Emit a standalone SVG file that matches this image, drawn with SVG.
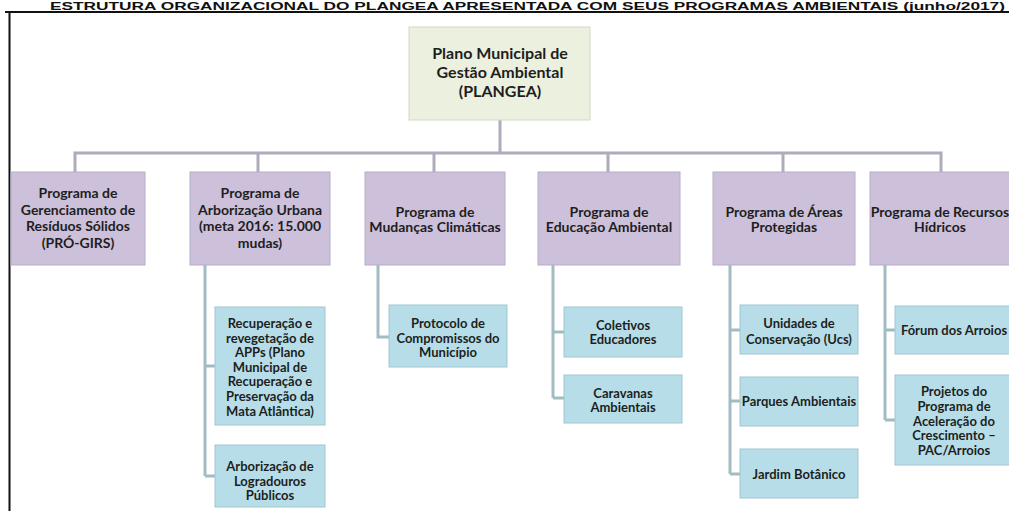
<svg xmlns="http://www.w3.org/2000/svg" width="1009" height="511" viewBox="0 0 1009 511">
<style>
text{font-family:Lato,"Liberation Sans",sans-serif;font-weight:bold;fill:#1e1e1e;text-anchor:middle}
.t0{font-size:16px}
.t1{font-size:14px}
.t2{font-size:13px}
.root{fill:#ebf1de;stroke:#d2d8c4;stroke-width:1}
.l1{fill:#ccc0da;stroke:#b8adc8;stroke-width:1}
.l2{fill:#b7dee8;stroke:#a0c6d1;stroke-width:1}
.c0{fill:none;stroke:#acacbc;stroke-width:3}
.c1{fill:none;stroke:#a2bcc4;stroke-width:3}
.title{font-family:"Liberation Sans",Arial,sans-serif;font-size:10px;font-weight:bold;fill:#111;text-anchor:start}
</style>
<rect width="1009" height="511" fill="#ffffff"/>
<text class="title" x="50" y="9.5" textLength="955" lengthAdjust="spacingAndGlyphs">ESTRUTURA ORGANIZACIONAL DO PLANGEA APRESENTADA COM SEUS PROGRAMAS AMBIENTAIS (junho/2017)</text>
<path d="M5 12H1009M9.5 12V511" fill="none" stroke="#111" stroke-width="2"/>
<g id="connectors">
<path class="c0" d="M500 120V153M75 172V153H941V172M258 153V172M434 153V172M608 153V172M783 153V172"/>
<path class="c1" d="M205 265V476M205 366H215M205 476H215"/>
<path class="c1" d="M378 265V337H389"/>
<path class="c1" d="M553 265V398M553 332H564M553 398H564"/>
<path class="c1" d="M730 265V474M730 330H740M730 401H740M730 474H740"/>
<path class="c1" d="M885 265V420M885 330H895M885 420H895"/>
</g>
<g id="root"><rect class="root" x="409" y="27" width="181" height="93"/>
<text class="t0" x="500" y="58.5">Plano Municipal de</text><text class="t0" x="500" y="78">Gestão Ambiental</text><text class="t0" x="500" y="96.5">(PLANGEA)</text></g>
<g id="p1"><rect class="l1" x="11" y="172" width="134" height="93"/>
<text class="t1" x="78" y="198">Programa de</text><text class="t1" x="78" y="214.5">Gerenciamento de</text><text class="t1" x="78" y="231">Resíduos Sólidos</text><text class="t1" x="78" y="247.5">(PRÓ-GIRS)</text></g>
<g id="p2"><rect class="l1" x="190" y="172" width="140" height="93"/>
<text class="t1" x="260" y="198">Programa de</text><text class="t1" x="260" y="214.5">Arborização Urbana</text><text class="t1" x="260" y="231">(meta 2016: 15.000</text><text class="t1" x="260" y="247.5">mudas)</text></g>
<g id="p3"><rect class="l1" x="365" y="172" width="140" height="93"/>
<text class="t1" x="435" y="216.5">Programa de</text><text class="t1" x="435" y="231.5">Mudanças Climáticas</text></g>
<g id="p4"><rect class="l1" x="538" y="172" width="142" height="93"/>
<text class="t1" x="609" y="216.5">Programa de</text><text class="t1" x="609" y="231.5">Educação Ambiental</text></g>
<g id="p5"><rect class="l1" x="713" y="172" width="142" height="93"/>
<text class="t1" x="784" y="216.5">Programa de Áreas</text><text class="t1" x="784" y="231.5">Protegidas</text></g>
<g id="p6"><rect class="l1" x="870" y="172" width="142" height="93"/>
<text class="t1" x="940" y="216.5">Programa de Recursos</text><text class="t1" x="940" y="231.5">Hídricos</text></g>
<g id="s21"><rect class="l2" x="215" y="307" width="110" height="118"/>
<text class="t2" x="270" y="328">Recuperação e</text><text class="t2" x="270" y="342.6">revegetação de</text><text class="t2" x="270" y="357.2">APPs (Plano</text><text class="t2" x="270" y="371.8">Municipal de</text><text class="t2" x="270" y="386.4">Recuperação e</text><text class="t2" x="270" y="401">Preservação da</text><text class="t2" x="270" y="415.6">Mata Atlântica)</text></g>
<g id="s22"><rect class="l2" x="215" y="445" width="110" height="62"/>
<text class="t2" x="270" y="471">Arborização de</text><text class="t2" x="270" y="486">Logradouros</text><text class="t2" x="270" y="500">Públicos</text></g>
<g id="s31"><rect class="l2" x="389" y="305" width="118" height="62"/>
<text class="t2" x="448" y="328">Protocolo de</text><text class="t2" x="448" y="342.5">Compromissos do</text><text class="t2" x="448" y="357">Município</text></g>
<g id="s41"><rect class="l2" x="564" y="307" width="118" height="50"/>
<text class="t2" x="623" y="330">Coletivos</text><text class="t2" x="623" y="344">Educadores</text></g>
<g id="s42"><rect class="l2" x="564" y="375" width="118" height="48"/>
<text class="t2" x="623" y="398">Caravanas</text><text class="t2" x="623" y="412">Ambientais</text></g>
<g id="s51"><rect class="l2" x="740" y="305" width="118" height="49"/>
<text class="t2" x="799" y="328">Unidades de</text><text class="t2" x="799" y="344">Conservação (Ucs)</text></g>
<g id="s52"><rect class="l2" x="740" y="377" width="118" height="49"/>
<text class="t2" x="799" y="406">Parques Ambientais</text></g>
<g id="s53"><rect class="l2" x="740" y="449" width="118" height="49"/>
<text class="t2" x="799" y="478.5">Jardim Botânico</text></g>
<g id="s61"><rect class="l2" x="895" y="306" width="120" height="48"/>
<text class="t2" x="954" y="335">Fórum dos Arroios</text></g>
<g id="s62"><rect class="l2" x="895" y="375" width="120" height="90"/>
<text class="t2" x="954" y="396">Projetos do</text><text class="t2" x="954" y="411">Programa de</text><text class="t2" x="954" y="425.5">Aceleração do</text><text class="t2" x="954" y="440">Crescimento –</text><text class="t2" x="954" y="454.5">PAC/Arroios</text></g>
</svg>
